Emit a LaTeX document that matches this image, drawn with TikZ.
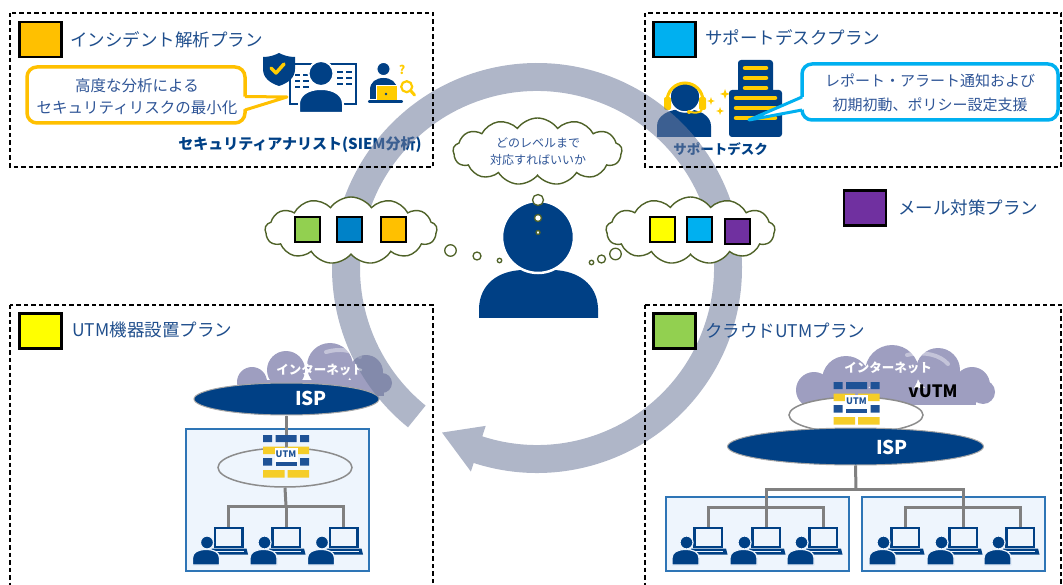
\documentclass[tikz,border=0pt]{standalone}
\usepackage{fontspec}
\setmainfont{Noto Sans CJK JP}
\usetikzlibrary{shapes.geometric,shapes.symbols}

\definecolor{navy}{RGB}{0,64,133}
\definecolor{titleblue}{RGB}{31,78,140}
\definecolor{noteblue}{RGB}{47,85,151}
\definecolor{planorange}{RGB}{255,192,0}
\definecolor{plancyan}{RGB}{0,176,240}
\definecolor{planblue}{RGB}{0,130,200}
\definecolor{planpurple}{RGB}{112,48,160}
\definecolor{planyellow}{RGB}{255,255,0}
\definecolor{plangreen}{RGB}{146,208,80}
\definecolor{iconyellow}{RGB}{255,204,0}
\definecolor{brickblue}{RGB}{30,82,150}
\definecolor{brickyellow}{RGB}{245,205,40}
\definecolor{thinkgreen}{RGB}{79,98,40}
\definecolor{cloudlav}{RGB}{158,158,192}
\definecolor{lanfill}{RGB}{238,245,253}
\definecolor{lanedge}{RGB}{46,117,182}
\definecolor{ringgray}{RGB}{110,122,155}
\definecolor{wiregray}{RGB}{128,128,128}

\tikzset{
  planbox/.style={draw=black, line width=1.2pt, dash pattern=on 4.5pt off 3pt},
  legendsq/.style={draw=black, line width=2.5pt, minimum width=42pt, minimum height=35pt, inner sep=0pt},
  plantitle/.style={text=titleblue, anchor=west, inner sep=0pt, font=\fontsize{17.5}{21}\selectfont},
  pickbox/.style={draw=black, line width=2pt, minimum size=25pt, inner sep=0pt},
  thought/.style={cloud, cloud puffs=13, cloud puff arc=110, cloud ignores aspect, draw=thinkgreen, line width=1.4pt, fill=white, inner sep=0pt},
  bubble/.style={circle, draw=thinkgreen, line width=1.3pt, fill=white, inner sep=0pt},
  notetext/.style={text=noteblue, align=center, font=\fontsize{15.5}{22}\selectfont},
  deskname/.style={text=navy, font=\bfseries\fontsize{15}{18}\selectfont},
  nettext/.style={text=white, font=\bfseries\fontsize{12.5}{15}\selectfont},
  shine/.style={draw=white, opacity=0.4, line width=4pt, line cap=round},
  ispdisc/.style={ellipse, fill=navy, draw=black!35, line width=1pt, inner sep=0pt},
  isptext/.style={text=white, font=\bfseries\fontsize{19}{22}\selectfont},
  utmring/.style={ellipse, draw=black!45, line width=1.5pt, inner sep=0pt},
  lanbox/.style={draw=lanedge, fill=lanfill, line width=1.5pt, inner sep=0pt},
  wire/.style={draw=wiregray, line width=3pt},
  ring/.style={fill=ringgray, fill opacity=0.55},
}

% firewall icon, #1 = centre x, #2 = top y
\newcommand{\utmicon}[2]{%
  \begin{scope}[shift={(#1,#2)}]
    \fill[brickblue] (-23,0) rectangle (-14,7) (-10.5,0) rectangle (10.5,7) (14,0) rectangle (23,7);
    \fill[brickyellow] (-23,11.5) rectangle (-1.5,19) (1.5,11.5) rectangle (23,19);
    \fill[brickblue] (-23,23) rectangle (-14,30.5) (14,23) rectangle (23,30.5);
    \fill[brickyellow] (-23,35) rectangle (-1.5,42.5) (1.5,35) rectangle (23,42.5);
    \fill[white] (-11.5,13) rectangle (11.5,27);
    \node[text=brickblue, font=\bfseries\fontsize{9}{9}\selectfont, inner sep=0pt] at (0,19.5) {UTM};
    \fill[brickblue] (-10.5,26.5) rectangle (10.5,30.5);
  \end{scope}}

% user at a laptop, #1 #2 = top centre of the screen
\newcommand{\userpc}[2]{%
  \begin{scope}[shift={(#1,#2)}]
    \draw[navy, line width=2.5pt, fill=lanfill] (-13.5,1.2) rectangle (14,20);
    \fill[navy] (-17,21.5) -- (18,21.5) -- (19.5,27.5) -- (-16,27.5) -- cycle;
    \draw[lanfill, line width=0.8pt] (-13,24) -- (15,24);
    \fill[navy, draw=lanfill, line width=1.2pt] (-36,38) -- (-36,31) .. controls (-36,25) and (-30,22.5) .. (-22.5,22.5)
      .. controls (-15,22.5) and (-9,25) .. (-9,31) -- (-9,38) -- cycle;
    \fill[navy, draw=lanfill, line width=1.2pt] (-21.5,15.5) circle (6.5);
  \end{scope}}

% four point sparkle
\newcommand{\sparkle}[3]{%
  \fill[iconyellow] (#1,#2) ++(0,-#3) -- ++(0.25*#3,0.75*#3) -- ++(0.75*#3,0.25*#3) -- ++(-0.75*#3,0.25*#3)
    -- ++(-0.25*#3,0.75*#3) -- ++(-0.25*#3,-0.75*#3) -- ++(-0.75*#3,-0.25*#3) -- ++(0.75*#3,-0.25*#3) -- cycle;}

\begin{document}
\begin{tikzpicture}[x=1pt, y=-1pt]
\useasboundingbox (0,0) rectangle (1063,585);

% ---- incident analysis plan ----
\draw[navy, line width=2.5pt, fill=white] (290,64) rectangle (356,104);
\foreach \yy in {75,81,87}
  \draw[navy, line width=2pt] (295,\yy) -- (300,\yy) (303,\yy) -- (309,\yy);
\foreach \yy in {72,78,84}
  \draw[navy, line width=2pt] (337,\yy) -- (343,\yy) (346,\yy) -- (352,\yy);
\fill[navy, draw=white, line width=2pt] (299,113) -- (299,104) .. controls (299,95) and (308,89) .. (321,89)
  .. controls (334,89) and (343,95) .. (343,104) -- (343,113) -- cycle;
\fill[navy, draw=white, line width=2pt] (321,73.5) circle (12.5);
\fill[navy] (263,57) .. controls (270,57) and (275,55) .. (279,53) .. controls (283,55) and (288,57) .. (295,57)
  -- (295,69) .. controls (295,78) and (288,83) .. (279,86) .. controls (270,83) and (263,78) .. (263,69) -- cycle;
\draw[iconyellow, line width=3.5pt, line cap=round, line join=round] (271,68) -- (276,73) -- (284,64);
% analyst with laptop
\fill[navy] (370,99) -- (370,90) .. controls (370,82) and (376,78) .. (383.5,78) .. controls (391,78) and (397,82) .. (397,90) -- (397,99) -- cycle;
\fill[navy, draw=white, line width=1.2pt] (383.5,69) circle (6.7);
\fill[iconyellow, draw=white, line width=1pt] (376,86) rectangle (397,101);
\fill[navy] (386,94) circle (1.4);
\draw[navy, line width=2.2pt, line cap=round] (369,101.5) -- (402,101.5);
\draw[iconyellow, line width=2.2pt] (406.7,86.7) circle (5.5);
\draw[iconyellow, line width=3pt, line cap=round] (410.5,90.5) -- (414.5,95);
\node[text=iconyellow, font=\bfseries\fontsize{12}{12}\selectfont, inner sep=0pt] (qmark) at (402,70) {?};
% callout
\draw[draw=planorange, line width=3.5pt, fill=white, rounded corners=10pt] (27,67) rectangle (245,123);
\fill[white] (241,96.5) -- (287,97) -- (241,110) -- cycle;
\draw[planorange, line width=3pt, line join=round] (245,96.5) -- (287,97) -- (245,110);
\node[notetext] (noteInc) at (137,97) {高度な分析による\\セキュリティリスクの最小化};
\node[deskname] (lblAnalyst) at (300,145) {セキュリティアナリスト(SIEM分析)};

% ---- support desk plan ----
\fill[navy] (657,137) -- (657,126) .. controls (657,116) and (668,109) .. (684,109) .. controls (700,109) and (711,116) .. (711,126) -- (711,137) -- cycle;
\fill[navy, draw=white, line width=1.5pt] (685,97) circle (15);
\draw[iconyellow, line width=3pt] (667,101) arc[start angle=180, end angle=360, radius=18];
\fill[iconyellow, rounded corners=2pt] (664,97) rectangle (671,110) (699,97) rectangle (706,110);
\draw[iconyellow, line width=2pt] (702,110) .. controls (700,113) and (695,113) .. (690,112);
\fill[iconyellow] (689,112) circle (2);
\sparkle{711}{101}{3.8}
\sparkle{725}{94}{5}
\sparkle{720}{111}{4}
\fill[navy, rounded corners=3pt] (738,60) rectangle (773,95);
\fill[navy, rounded corners=3pt] (729,90) rectangle (782,137);
\foreach \yy in {68,78,88}
  \draw[iconyellow, line width=4.5pt, line cap=round] (745,\yy) -- (766,\yy);
\foreach \yy in {98,108,118}
  \draw[iconyellow, line width=4.5pt, line cap=round] (736,\yy) -- (775,\yy);
\draw[draw=plancyan, line width=3.5pt, fill=white, rounded corners=10pt] (802,64) rectangle (1058,120);
\fill[white] (806,96) -- (749,120) -- (806,109) -- cycle;
\draw[plancyan, line width=3pt, line join=round] (802,97) -- (749,120) -- (802,110);
\node[notetext, font=\fontsize{15}{24}\selectfont] (noteDesk) at (930,93) {レポート・アラート通知および\\初期初動、ポリシー設定支援};
\node[deskname, font=\bfseries\fontsize{13.5}{16}\selectfont] (lblDesk) at (720.5,149) {サポートデスク};

% ---- UTM appliance plan ----
\foreach \cx/\cy/\cr in {252/382/15, 286/370/19, 330/366/23, 366/372/17, 382/383/10}
  \fill[cloudlav] (\cx,\cy) circle (\cr);
\fill[cloudlav] (252,380) rectangle (384,396);
\draw[shine] (326,352) .. controls (340,348) and (352,350) .. (360,357);
\node[nettext] (netLtxt) at (320,370) {インターネット};
\node[lanbox, minimum width=183pt, minimum height=142pt] (lanL) at (277.5,500) {};
\node[ispdisc, minimum width=185pt, minimum height=32pt] (ispL) at (286.5,399) {};
\node[isptext] (ispLtxt) at (311,398) {ISP};
\node[utmring, minimum width=134pt, minimum height=39pt] (utmL) at (285,467.5) {};
\coordinate (hubL) at (286,506);
\coordinate (pcL1) at (228.5,527);
\coordinate (pcL2) at (286,527);
\coordinate (pcL3) at (343.5,527);
\draw[wire] (ispL.south) -- (ispL.south |- utmL.north);
\draw[wire] (utmL.south) -- (hubL);
\draw[wire] (pcL1) |- (hubL) -| (pcL3);
\draw[wire] (hubL) -- (pcL2);
\utmicon{286}{435}
\foreach \xx in {228.5,286,343.5}
  {\userpc{\xx}{527}}

% ---- cloud UTM plan ----
\foreach \cx/\cy/\cr in {814/390/18, 846/380/24, 892/372/27, 938/370/22, 972/385/18, 983/392/12}
  \fill[cloudlav] (\cx,\cy) circle (\cr);
\fill[cloudlav] (812,388) rectangle (976,405);
\draw[shine] (907,355) .. controls (925,351) and (940,355) .. (948,364);
\node[nettext] (netRtxt) at (888,368) {インターネット};
\node[text=black, font=\bfseries\fontsize{17}{20}\selectfont] (vutm) at (933,391) {vUTM};
\node[utmring, fill=white, minimum width=134pt, minimum height=36pt] (utmR) at (856,415) {};
\utmicon{856.5}{382}
\node[ispdisc, minimum width=256pt, minimum height=37pt] (ispR) at (855.5,446.5) {};
\node[isptext] (ispRtxt) at (892,447) {ISP};
\node[lanbox, minimum width=183pt, minimum height=74pt] (lanR1) at (757.5,534) {};
\node[lanbox, minimum width=183pt, minimum height=74pt] (lanR2) at (953.5,534) {};
\coordinate (hubR) at (856,489);
\coordinate (tapR1) at (766,507);
\coordinate (tapR2) at (963,507);
\coordinate (pcR1) at (708,527);
\coordinate (pcR2) at (766,527);
\coordinate (pcR3) at (823,527);
\coordinate (pcR4) at (905,527);
\coordinate (pcR5) at (963,527);
\coordinate (pcR6) at (1020,527);
\draw[wire] (ispR.south) -- (hubR);
\draw[wire] (pcR2) |- (hubR) -| (pcR5);
\draw[wire] (pcR1) |- (tapR1) -| (pcR3);
\draw[wire] (pcR4) |- (tapR2) -| (pcR6);
\foreach \xx in {708,766,823,905,963,1020}
  {\userpc{\xx}{527}}

% ---- circular arrow ----
\fill[ring, shift={(537,268)}]
  (129:205) arc[start angle=129, end angle=468, radius=205]
  -- (468:214) -- (480:190) -- (468:166) -- (468:177)
  arc[start angle=468, end angle=129, radius=177] -- cycle;

% ---- person in the middle ----
\fill[navy] (479,318) -- (479,308) .. controls (480,284) and (498,271) .. (522,270) -- (554,270)
  .. controls (578,271) and (597,284) .. (598,308) -- (598,318) -- cycle;
\node[circle, fill=navy, draw=white, line width=2.5pt, minimum size=72pt, inner sep=0pt] (thinker) at (538,237) {};
\node[bubble, minimum size=11pt] (bubT1) at (538,200) {};
\node[bubble, minimum size=7pt] (bubT2) at (538,218) {};
\node[bubble, minimum size=4pt] (bubT3) at (538,232.5) {};
\node[bubble, minimum size=11.5pt] (bubL1) at (450.5,250.5) {};
\node[bubble, minimum size=8pt] (bubL2) at (477,256) {};
\node[bubble, minimum size=4.5pt] (bubL3) at (499.5,260.5) {};
\node[bubble, minimum size=4.5pt] (bubR1) at (591.5,262.5) {};
\node[bubble, minimum size=8pt] (bubR2) at (601.5,259) {};
\node[bubble, minimum size=11.5pt] (bubR3) at (615.5,254) {};

\node[thought, minimum width=169pt, minimum height=67pt] (askcloud) at (537.5,151.5) {};
\node[notetext, font=\fontsize{12}{17}\selectfont] (asktext) at (538,152) {どのレベルまで\\対応すればいいか};
\node[thought, minimum width=172pt, minimum height=67pt] (pickL) at (351,230.5) {};
\node[pickbox, fill=plangreen] (pickL1) at (307,230) {};
\node[pickbox, fill=planblue] (pickL2) at (349.5,230) {};
\node[pickbox, fill=planorange] (pickL3) at (393.5,230) {};
\node[thought, minimum width=169pt, minimum height=67pt] (pickR) at (690.5,230.5) {};
\node[pickbox, fill=planyellow] (pickR1) at (662,230) {};
\node[pickbox, fill=plancyan] (pickR2) at (699,230) {};
\node[pickbox, fill=planpurple] (pickR3) at (737.5,232) {};

% ---- plan frames and legend ----
\draw[planbox] (10,13) rectangle (433,167);
\draw[planbox] (645,13) rectangle (1061,167);
\draw[planbox] (10,305) rectangle (433,600);
\draw[planbox] (645,305) rectangle (1061,600);
\node[legendsq, fill=planorange] (legInc) at (40.5,39.5) {};
\node[plantitle] (ttlInc) at (70,40) {インシデント解析プラン};
\node[legendsq, fill=plancyan] (legDesk) at (674.5,39.5) {};
\node[plantitle] (ttlDesk) at (705,38) {サポートデスクプラン};
\node[legendsq, fill=planpurple] (legMail) at (865,208) {};
\node[plantitle] (ttlMail) at (898,208) {メール対策プラン};
\node[legendsq, fill=planyellow] (legBox) at (40.5,331) {};
\node[plantitle] (ttlBox) at (72,330) {UTM機器設置プラン};
\node[legendsq, fill=plangreen] (legCloud) at (674.5,331) {};
\node[plantitle] (ttlCloud) at (705,331) {クラウドUTMプラン};
\end{tikzpicture}
\end{document}
